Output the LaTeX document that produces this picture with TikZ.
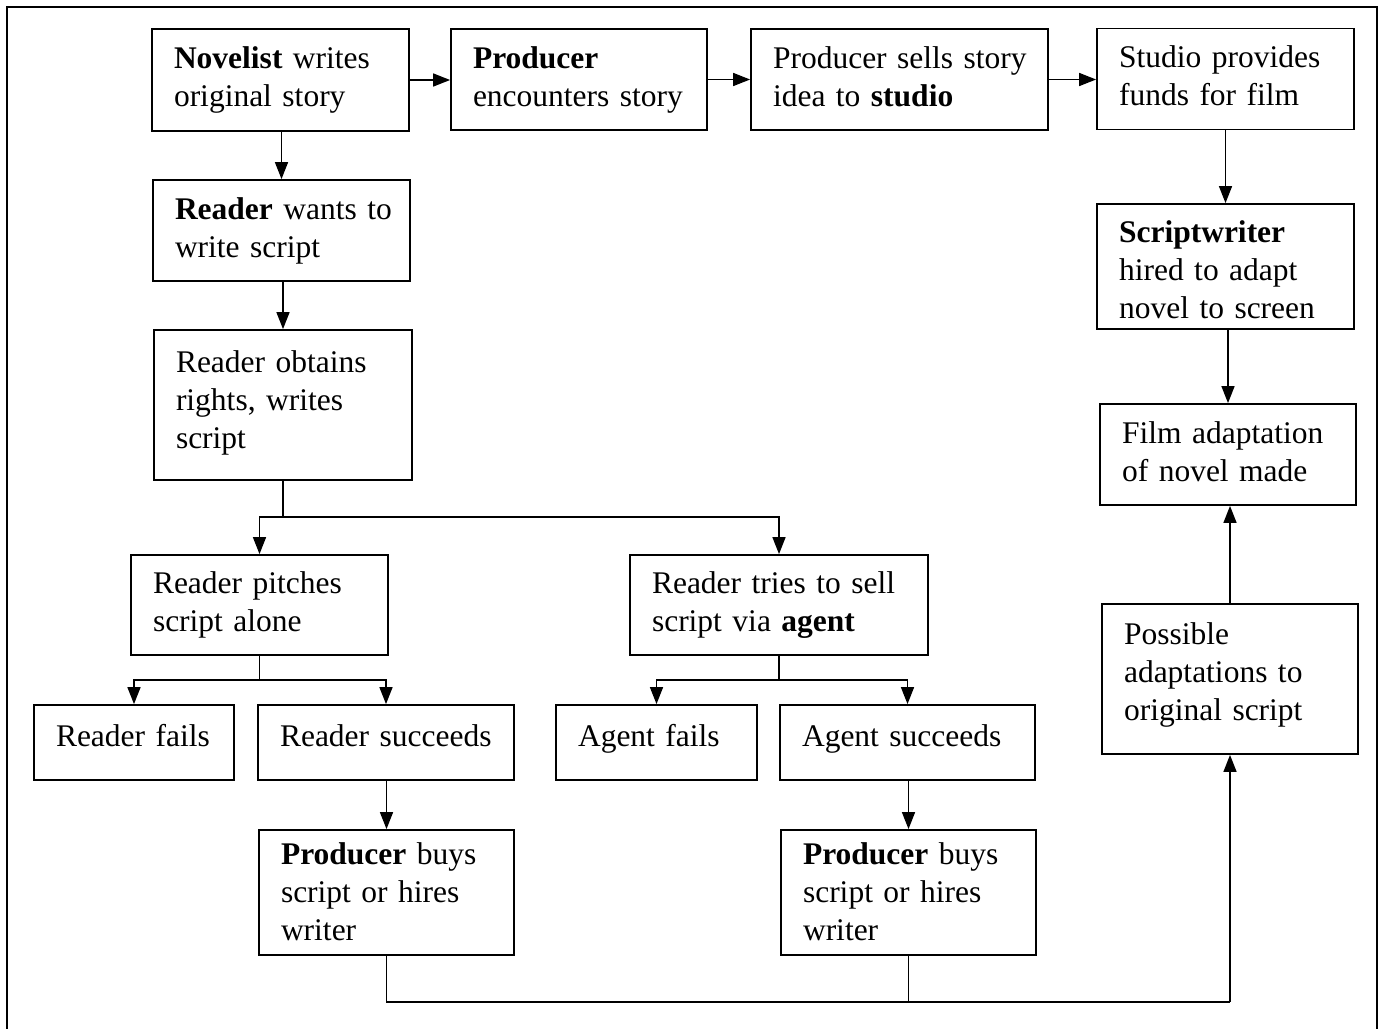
\documentclass[tikz,border=0pt]{standalone}
\usepackage{fontspec}
\setmainfont{Liberation Serif}
\usetikzlibrary{arrows.meta}
\newcommand\mylines[1]{\begin{tabular}{@{}l@{}}#1\end{tabular}}
\newcommand\shiftlines[2]{\raisebox{#1}[\height][\depth]{\mylines{#2}}}
\begin{document}
\begin{tikzpicture}[x=0.5pt,y=-0.5pt,
  box/.style={draw, line width=0.9pt, rectangle, inner xsep=11pt, inner ysep=0pt,
    align=left, font=\fontsize{15.75pt}{19pt}\selectfont},
  conn/.style={line width=0.75pt},
  arr/.style={conn, -{Triangle[length=8.5pt,width=6.5pt]}},
  frame/.style={line width=1pt}]
\useasboundingbox (0,0) rectangle (1384,1028);
\draw[frame] (7,1040) -- (7,7) -- (1377,7) -- (1377,1040);

\node[box, minimum width=128.5pt, text width=106.5pt, minimum height=51pt] (nov) at (280.5,80) {\mylines{\textbf{Novelist} writes\\original story}};
\node[box, minimum width=128pt, text width=106pt, minimum height=50.5pt] (enc) at (579,79.5) {\mylines{\textbf{Producer}\\encounters story}};
\node[box, minimum width=148.5pt, text width=126.5pt, minimum height=50.5pt] (sells) at (899.5,79.5) {\mylines{Producer sells story\\idea to \textbf{studio}}};
\node[box, minimum width=128.5pt, text width=106.5pt, minimum height=50.5pt] (studio) at (1225.5,79) {\mylines{Studio provides\\funds for film}};

\node[box, minimum width=128.5pt, text width=106.5pt, minimum height=50.5pt] (wants) at (281.5,230.5) {\mylines{\textbf{Reader} wants to\\write script}};
\node[box, minimum width=129pt, text width=107pt, minimum height=75pt] (obtains) at (283,405) {\shiftlines{1pt}{Reader obtains\\rights, writes\\script}};

\node[box, minimum width=128.5pt, text width=106.5pt, minimum height=50pt] (pitch) at (259.5,605) {\mylines{Reader pitches\\script alone}};
\node[box, minimum width=149pt, text width=127pt, minimum height=50pt] (tries) at (779,605) {\mylines{Reader tries to sell\\script via \textbf{agent}}};

\node[box, minimum width=100pt, text width=78pt, minimum height=37.5pt] (rfail) at (134,742.5) {\shiftlines{2pt}{Reader fails}};
\node[box, minimum width=128pt, text width=106pt, minimum height=37.5pt] (rsucc) at (386,742.5) {\shiftlines{2pt}{Reader succeeds}};
\node[box, minimum width=100.5pt, text width=78.5pt, minimum height=37.5pt] (afail) at (656.5,742.5) {\shiftlines{2pt}{Agent fails}};
\node[box, minimum width=127.5pt, text width=105.5pt, minimum height=37.5pt] (asucc) at (907.5,742.5) {\shiftlines{2pt}{Agent succeeds}};

\node[box, minimum width=127.5pt, text width=105.5pt, minimum height=62.5pt] (buyL) at (386.5,892.5) {\shiftlines{-1pt}{\textbf{Producer} buys\\script or hires\\writer}};
\node[box, minimum width=127.5pt, text width=105.5pt, minimum height=62.5pt] (buyR) at (908.5,892.5) {\shiftlines{-1pt}{\textbf{Producer} buys\\script or hires\\writer}};

\node[box, minimum width=128.5pt, text width=106.5pt, minimum height=62.5pt] (sw) at (1225.5,266.5) {\shiftlines{-3pt}{\textbf{Scriptwriter}\\hired to adapt\\novel to screen}};
\node[box, minimum width=128pt, text width=106pt, minimum height=50.5pt] (film) at (1228,454.5) {\mylines{Film adaptation\\of novel made}};
\node[box, minimum width=128pt, text width=106pt, minimum height=75pt] (poss) at (1230,679) {\shiftlines{2pt}{Possible\\adaptations to\\original script}};

\coordinate (j1) at (283,517);
\coordinate (j2) at (259.5,680);
\coordinate (j3) at (779,680);
\coordinate (j4) at (1230,1002);

% top row
\draw[arr] (nov.east) -- (nov.east -| enc.west);
\draw[arr] (enc.east) -- (enc.east -| sells.west);
\draw[arr] (sells.east) -- (sells.east -| studio.west);
% left column
\draw[arr] (nov.south -| wants.north) -- (wants.north);
\draw[arr] (wants.south -| obtains.north) -- (obtains.north);
% first split
\draw[conn] (obtains.south) -- (j1);
\draw[arr] (j1) -| (pitch.north);
\draw[arr] (j1) -| (tries.north);
% second splits
\draw[conn] (pitch.south) -- (j2);
\draw[arr] (j2) -| (rfail.north);
\draw[arr] (j2) -| (rsucc.north);
\draw[conn] (tries.south) -- (j3);
\draw[arr] (j3) -| (afail.north);
\draw[arr] (j3) -| (asucc.north);
% to producers
\draw[arr] (rsucc.south -| buyL.north) -- (buyL.north);
\draw[arr] (asucc.south -| buyR.north) -- (buyR.north);
% bottom return
\draw[conn] (buyL.south) |- (j4);
\draw[conn] (buyR.south) -- (buyR.south |- j4);
\draw[arr] (j4) -- (poss.south);
% right column
\draw[arr] (studio.south) -- (sw.north);
\draw[arr] (sw.south -| film.north) -- (film.north);
\draw[arr] (poss.north) -- (poss.north |- film.south);
\end{tikzpicture}
\end{document}
